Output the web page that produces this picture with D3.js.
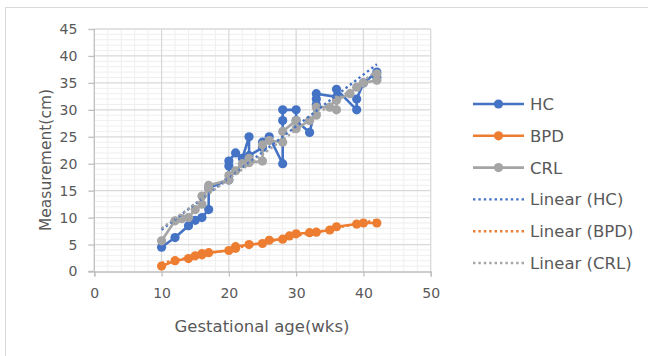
<!DOCTYPE html>
<html>
<head>
<meta charset="utf-8">
<script src="https://cdn.jsdelivr.net/npm/d3@7"></script>
<style>
  body { margin: 0; background: #fff; }
  text { font-family: "DejaVu Sans", sans-serif; fill: #595959; }
</style>
</head>
<body>
<div id="chart"></div>
<script>
var svgWidth = 648;
var svgHeight = 356;

// gestational age (wks) / measurement (cm)
var hcX  = [10, 12, 14, 15, 16, 17, 17, 20, 20, 20, 21, 22, 23, 23, 25, 25, 26, 28, 28, 28, 30, 30, 32, 33, 33, 33, 36, 36, 39, 39, 40, 42, 42];
var hcY  = [4.5, 6.3, 8.5, 9.5, 10, 11.5, 15.5, 17, 19.6, 20.5, 22, 21, 25, 21.5, 23, 24, 25, 20, 28, 30, 30, 28, 25.8, 31, 32, 33, 32.4, 33.8, 30, 32, 35, 37, 36];

var bpdX = [10, 12, 14, 15, 16, 16, 17, 20, 21, 21, 23, 25, 26, 28, 29, 30, 32, 33, 35, 36, 39, 40, 42];
var bpdY = [1.0, 2.0, 2.4, 2.9, 3.1, 3.3, 3.5, 3.9, 4.3, 4.6, 5.0, 5.2, 5.8, 6.0, 6.6, 7.0, 7.2, 7.3, 7.7, 8.3, 8.8, 9.0, 9.0];

var crlX = [10, 12, 13, 14, 15, 16, 16, 17, 17, 20, 20, 21, 22, 23, 23, 25, 25, 26, 28, 28, 30, 30, 32, 33, 33, 35, 36, 36, 38, 39, 40, 42, 42];
var crlY = [5.7, 9.4, 9.8, 10, 11.5, 12.5, 14, 15.3, 16, 17, 17.8, 18.7, 20, 21, 20.2, 20.5, 23.5, 24.3, 24, 26, 28, 26.5, 28, 29, 30.5, 30.5, 30, 31.8, 33, 34.2, 35, 35.5, 36.7];

var seriesNames = ["HC", "BPD", "CRL"];
var seriesColors = ["#4472C4", "#ED7D31", "#A5A5A5"];

var xTicks = [0, 10, 20, 30, 40, 50];
var yTicks = [0, 5, 10, 15, 20, 25, 30, 35, 40, 45];

var series = [
  { name: "HC",  pts: hcX.map((x, i) => [x, hcY[i]]) },
  { name: "BPD", pts: bpdX.map((x, i) => [x, bpdY[i]]) },
  { name: "CRL", pts: crlX.map((x, i) => [x, crlY[i]]) }
];

var svg = d3.select("#chart")
  .append("svg")
  .attr("width", svgWidth)
  .attr("height", svgHeight);

// chart border
svg.append("rect")
  .attr("x", 5.5).attr("y", 7.5)
  .attr("width", 700).attr("height", 400)
  .attr("fill", "none")
  .attr("stroke", "#d9d9d9");

var xScale = d3.scaleLinear().domain([0, 50]).range([94.3, 430.7]);
var yScale = d3.scaleLinear().domain([0, 45]).range([271.5, 29]);

// minor gridlines
var grid = svg.append("g");
grid.selectAll(".minx")
  .data(d3.range(0, 51, 2).filter(v => v % 10 !== 0))
  .enter().append("line")
  .attr("x1", d => xScale(d)).attr("x2", d => xScale(d))
  .attr("y1", yScale(0)).attr("y2", yScale(45))
  .attr("stroke", "#efefef").attr("stroke-width", 1);
grid.selectAll(".miny")
  .data(d3.range(0, 46, 1).filter(v => v % 5 !== 0))
  .enter().append("line")
  .attr("x1", xScale(0)).attr("x2", xScale(50))
  .attr("y1", d => yScale(d)).attr("y2", d => yScale(d))
  .attr("stroke", "#efefef").attr("stroke-width", 1);

// major gridlines
grid.selectAll(".majx")
  .data(xTicks.slice(1))
  .enter().append("line")
  .attr("x1", d => xScale(d)).attr("x2", d => xScale(d))
  .attr("y1", yScale(0)).attr("y2", yScale(45))
  .attr("stroke", "#d9d9d9").attr("stroke-width", 1.3);
grid.selectAll(".majy")
  .data(yTicks.slice(1))
  .enter().append("line")
  .attr("x1", xScale(0)).attr("x2", xScale(50))
  .attr("y1", d => yScale(d)).attr("y2", d => yScale(d))
  .attr("stroke", "#d9d9d9").attr("stroke-width", 1.3);

// axes
var xAxis = d3.axisBottom(xScale).tickValues(xTicks).tickSize(5).tickPadding(12);
var yAxis = d3.axisLeft(yScale).tickValues(yTicks).tickSize(6).tickPadding(11);

var gx = svg.append("g")
  .attr("transform", `translate(0, ${yScale(0)})`)
  .call(xAxis);
var gy = svg.append("g")
  .attr("transform", `translate(${xScale(0)}, 0)`)
  .call(yAxis);

[gx, gy].forEach(function(g) {
  g.select(".domain").attr("stroke", "#bfbfbf").attr("stroke-width", 1.3);
  g.selectAll(".tick line").attr("stroke", "#bfbfbf").attr("stroke-width", 1.3);
  g.selectAll(".tick text")
    .attr("fill", "#595959")
    .style("font-family", "DejaVu Sans")
    .style("font-size", "14px");
});
gy.select(".domain").attr("d", `M-6,${yScale(0)}H0V${yScale(45)}`);

// axis titles
svg.append("text")
  .attr("x", 262).attr("y", 332)
  .attr("text-anchor", "middle")
  .style("font-size", "16.5px")
  .text("Gestational age(wks)");

svg.append("text")
  .attr("transform", "translate(51, 160) rotate(-90)")
  .attr("text-anchor", "middle")
  .style("font-size", "15.5px")
  .text("Measurement(cm)");

// series lines + markers
var line = d3.line().x(d => xScale(d[0])).y(d => yScale(d[1]));

series.forEach(function(s, i) {
  var g = svg.append("g");
  g.append("path")
    .attr("d", line(s.pts))
    .attr("fill", "none")
    .attr("stroke", seriesColors[i])
    .attr("stroke-width", 2.6)
    .attr("stroke-linejoin", "round");
  g.selectAll("circle")
    .data(s.pts)
    .enter().append("circle")
    .attr("cx", d => xScale(d[0]))
    .attr("cy", d => yScale(d[1]))
    .attr("r", 4.6)
    .attr("fill", seriesColors[i]);
});

// linear trendlines (least squares over each series)
function fit(pts) {
  var mx = d3.mean(pts, d => d[0]), my = d3.mean(pts, d => d[1]);
  var sxy = d3.sum(pts, d => (d[0] - mx) * (d[1] - my));
  var sxx = d3.sum(pts, d => (d[0] - mx) * (d[0] - mx));
  var b = sxy / sxx;
  return { a: my - b * mx, b: b };
}

series.forEach(function(s, i) {
  var f = fit(s.pts);
  var x0 = d3.min(s.pts, d => d[0]), x1 = d3.max(s.pts, d => d[0]);
  svg.append("line")
    .attr("x1", xScale(x0)).attr("y1", yScale(f.a + f.b * x0))
    .attr("x2", xScale(x1)).attr("y2", yScale(f.a + f.b * x1))
    .attr("stroke", seriesColors[i])
    .attr("stroke-width", 2.4)
    .attr("stroke-dasharray", "2.4,3");
});

// legend
var legendNames = seriesNames.concat(seriesNames.map(n => "Linear (" + n + ")"));
var legend = svg.append("g");
legendNames.forEach(function(name, i) {
  var y = 104 + i * 31.8;
  var c = seriesColors[i % 3];
  var isTrend = i >= 3;
  legend.append("line")
    .attr("x1", 473).attr("x2", 524)
    .attr("y1", y).attr("y2", y)
    .attr("stroke", c)
    .attr("stroke-width", isTrend ? 2.4 : 2.6)
    .attr("stroke-dasharray", isTrend ? "2.4,3" : null);
  if (!isTrend) {
    legend.append("circle")
      .attr("cx", 498.5).attr("cy", y).attr("r", 4.6)
      .attr("fill", c);
  }
  legend.append("text")
    .attr("x", 530).attr("y", y)
    .attr("dy", "0.36em")
    .style("font-size", "16.5px")
    .text(name);
});
</script>
</body>
</html>
